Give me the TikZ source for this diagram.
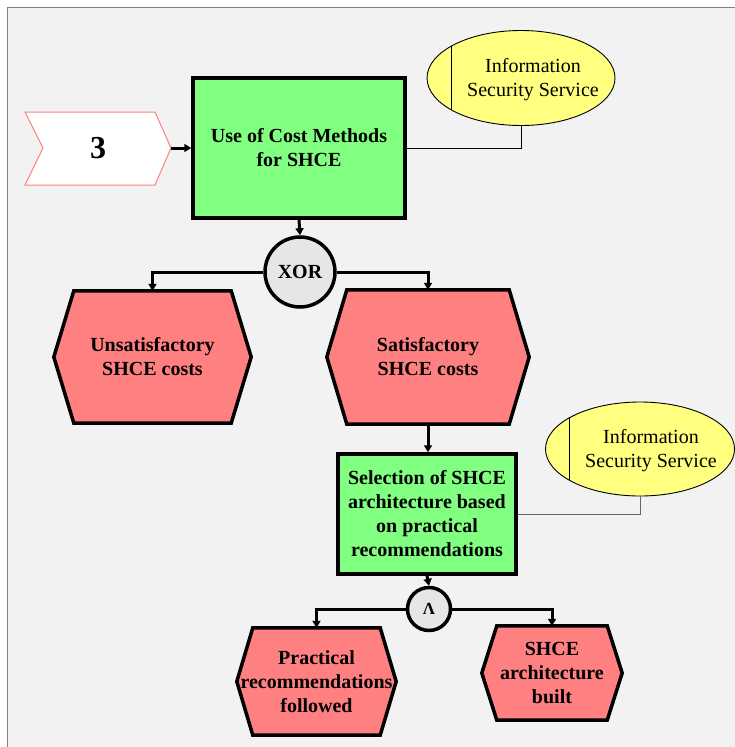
\documentclass[tikz,border=0pt]{standalone}
\usepackage{fontspec}
\setmainfont{Liberation Serif}
\usetikzlibrary{arrows.meta,calc,backgrounds,shapes.geometric}

\definecolor{funcgreen}{HTML}{80FF80}
\definecolor{eventred}{HTML}{FF8080}
\definecolor{orgyellow}{HTML}{FFFF80}
\definecolor{gatefill}{HTML}{E6E6E6}
\definecolor{panelgray}{HTML}{F2F2F2}
\definecolor{framegray}{HTML}{808080}

\tikzset{
  func/.style={draw=black, line width=3.5pt, fill=funcgreen, inner sep=0pt,
    align=center, font=\fontsize{20}{24}\selectfont\bfseries},
  event/.style={inner sep=0pt, align=center, font=\fontsize{20}{24}\selectfont\bfseries},
  evline/.style={draw=black, line width=3.5pt, fill=eventred, line join=miter},
  gate/.style={circle, draw=black, line width=3.5pt, fill=gatefill, inner sep=0pt,
    font=\fontsize{20}{24}\selectfont\bfseries},
  orgunit/.style={ellipse, draw=black, line width=0.9pt, fill=orgyellow, inner sep=0pt},
  orgtext/.style={align=center, inner sep=0pt, font=\fontsize{20}{24}\selectfont},
  flow/.style={line width=3pt, -{Triangle[length=7pt,width=8pt]}},
  assoc/.style={line width=1pt}
}

% hexagonal event outline around a node box, #2 = slant inset
\newcommand{\eventhex}[2]{%
  \path[evline] ($(#1.north west)+(#2,0)$) -- ($(#1.north east)+(-#2,0)$) -- (#1.east)
    -- ($(#1.south east)+(-#2,0)$) -- ($(#1.south west)+(#2,0)$) -- (#1.west) -- cycle;}

\begin{document}
\begin{tikzpicture}[x=1pt,y=-1pt]
\useasboundingbox (0,0) rectangle (735,747);

% functions
\node[func, minimum width=212, minimum height=140] (g1) at (299,148)
  {Use of Cost Methods\\for SHCE};
\node[func, minimum width=178, minimum height=120] (g2) at (427,514)
  {Selection of SHCE\\architecture based\\on practical\\recommendations};

% events
\node[event, minimum width=197, minimum height=132] (h1) at (152.5,357)
  {Unsatisfactory\\SHCE costs};
\node[event, minimum width=202, minimum height=134] (h2) at (428,357)
  {Satisfactory\\SHCE costs};
\node[event, minimum width=159, minimum height=107] (h3) at (316.5,681.5)
  {Practical\\recommendations\\followed};
\node[event, minimum width=140, minimum height=94] (h4) at (552,673)
  {SHCE\\architecture\\built};

% connectors (gates)
\node[gate, minimum size=70] (xor) at (300,272) {XOR};
\node[gate, minimum size=43, font=\fontsize{17}{18}\selectfont\bfseries] (and) at (429,609) {Λ};

% organisational units
\node[orgunit, minimum width=188, minimum height=95] (e1) at (521,78) {};
\begin{scope}
  \clip (e1.center) ellipse [x radius=94, y radius=47.5];
  \draw[line width=0.9pt] (451,20) -- (451,140);
\end{scope}
\node[orgtext] (e1t) at (533,80) {Information\\Security Service};

\node[orgunit, minimum width=189, minimum height=94] (e2) at (640,449) {};
\begin{scope}
  \clip (e2.center) ellipse [x radius=94.5, y radius=47];
  \draw[line width=0.9pt] (569,390) -- (569,510);
\end{scope}
\node[orgtext] (e2t) at (651,451) {Information\\Security Service};

% process interface
\node[font=\fontsize{32}{36}\selectfont\bfseries, inner sep=0pt] (p3) at (98,148) {3};
\coordinate (p3tip) at (171,148);

\begin{pgfonlayer}{background}
  \fill[white] (0,0) rectangle (735,747);
  \fill[panelgray] (7.5,7.5) rectangle (740,760);
  \draw[framegray, line width=1.3pt] (7.5,760) -- (7.5,7.5) -- (740,7.5);
  \draw[eventred, fill=white, line width=1pt, line join=miter]
    (25,112) -- (155,112) -- (p3tip) -- (155,185) -- (25,185) -- (43,148) -- cycle;
  \eventhex{h1}{20}
  \eventhex{h2}{20}
  \eventhex{h3}{16}
  \eventhex{h4}{15}
\end{pgfonlayer}

% control flow
\draw[flow] (p3tip) -- (g1.west);
\draw[flow] (g1.south) -- (xor.north);
\draw[flow] (xor.west) -| (h1.north);
\draw[flow] (xor.east) -| (h2.north);
\draw[flow] (h2.south) -- (h2.south |- g2.north);
\draw[flow] (g2.south) -- (and.north);
\draw[flow] (and.west) -| (h3.north);
\draw[flow] (and.east) -| (h4.north);

% assignments
\draw[assoc] (e1.south) |- (g1.east);
\draw[assoc, draw=black!60] (e2.south) |- (g2.east);
\end{tikzpicture}
\end{document}
